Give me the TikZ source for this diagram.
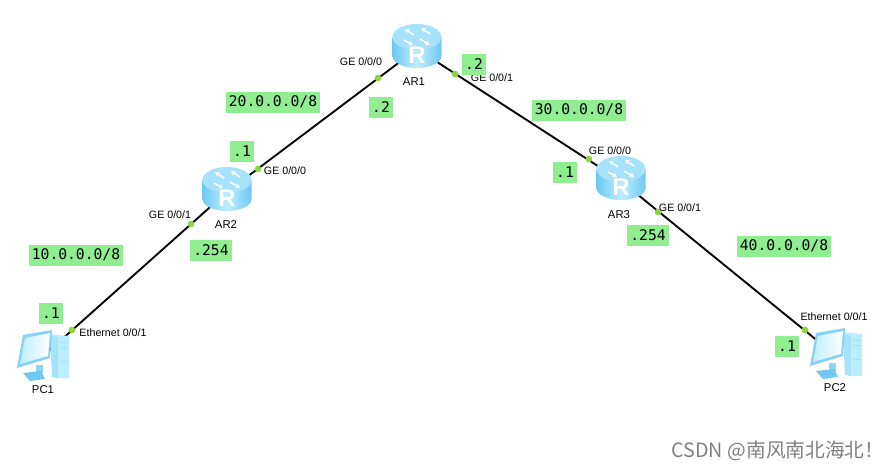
\documentclass[tikz,border=0pt]{standalone}
\usepackage{fontspec}
\setmainfont{Liberation Sans}
\newfontfamily\netmono{DejaVu Sans Mono}
\newfontfamily\cjkmark{Noto Sans CJK SC}
\usetikzlibrary{arrows.meta}
\definecolor{netgreen}{HTML}{90EE90}
\definecolor{portgreen}{HTML}{8FD43C}
\definecolor{iconblue}{HTML}{6FC8F2}
\definecolor{iconpale}{HTML}{BDEEFF}
\definecolor{icontop}{HTML}{A6E2FA}

\begin{document}
\begin{tikzpicture}[
  x=0.75pt,y=-0.75pt,
  netlabel/.style={fill=netgreen,font=\netmono\fontsize{11}{13}\selectfont,inner xsep=2.25pt,
                   inner ysep=0pt,minimum height=15.75pt},
  portlabel/.style={font=\fontsize{8}{10}\selectfont,inner sep=0pt},
  devlabel/.style={font=\fontsize{8.5}{10}\selectfont,inner sep=0pt},
  portdot/.style={circle,fill=portgreen,minimum size=5pt,inner sep=0pt},
  devnode/.style={inner sep=0pt,minimum size=1pt},
  link/.style={line width=1.4pt,black},
  turn/.style={-{Stealth[length=3.4pt,width=4pt]},white,line width=1.1pt},
  routericon/.pic={
    \path[left color=iconblue,right color=iconblue,middle color=iconpale]
      (-24.5,-12) -- (-24.5,7) arc[start angle=180,end angle=0,x radius=24.5,y radius=12]
      -- (24.5,-12) -- cycle;
    \path[fill=icontop] (0,-12) ellipse[x radius=24.5,y radius=13];
    \draw[turn] (-3,-14) -- (-12,-20);
    \draw[turn] (-13,-9) -- (-4,-4);
    \draw[turn] (3,-10) -- (13,-4);
    \draw[turn] (13,-15) -- (4,-21);
    \node[white,font=\bfseries\fontsize{18}{18}\selectfont,inner sep=0pt] at (0,6) {R};
  },
  pcicon/.pic={
    \path[fill=icontop] (8,-23) -- (16,-21) -- (16,21) -- (10,20) -- cycle;
    \path[fill=iconpale] (8,-23) -- (27,-21) -- (27,21) -- (16,21) -- (16,-19) -- cycle;
    \draw[iconblue!60,line width=0.5pt] (18,-15) -- (26,-15) (18,-10) -- (26,-10) (18,4) -- (26,4);
    \path[fill=iconblue!80] (-6,8) -- (1,8) -- (1,16) -- (-6,16) -- cycle;
    \path[fill=iconblue] (-19,16) -- (-1,14) -- (3,22) -- (-12,24) -- cycle;
    \path[fill=iconblue!85] (-25,11) -- (-19,-22) -- (10,-27) -- (8,1) -- cycle;
    \path[left color=iconpale,right color=white] (-22,7) -- (-17,-19) -- (8,-24) -- (6,-1) -- cycle;
  },
]

\path[use as bounding box] (0,0) rectangle (890,469);

% ---- Devices ----------------------------------------------------------------
\node[devnode] (AR1) at (417,49)  {};
\node[devnode] (AR2) at (227,192) {};
\node[devnode] (AR3) at (621,181) {};
\node[devnode] (PC1) at (42,357)  {};
\node[devnode] (PC2) at (835,355) {};

% ---- Links ------------------------------------------------------------------
\foreach \from/\to in {PC1/AR2, AR2/AR1, AR1/AR3, AR3/PC2}{
  \draw[link] (\from.center) -- (\to.center);
}

% ---- Icons ------------------------------------------------------------------
\foreach \dev in {AR1,AR2,AR3}{
  \pic at (\dev) {routericon};
}
\foreach \dev in {PC1,PC2}{
  \pic at (\dev) {pcicon};
}

% ---- Device names -----------------------------------------------------------
\node[devlabel] (lblAR1) at (414,82)  {AR1};
\node[devlabel] (lblAR2) at (226,225) {AR2};
\node[devlabel] (lblAR3) at (619,215) {AR3};
\node[devlabel] (lblPC1) at (43,390)  {PC1};
\node[devlabel] (lblPC2) at (835,388) {PC2};

% ---- Port dots --------------------------------------------------------------
\node[portdot] (p1a) at (378,78)  {};
\node[portdot] (p1b) at (455,74)  {};
\node[portdot] (p2a) at (258,169) {};
\node[portdot] (p2b) at (191,224) {};
\node[portdot] (p3a) at (589,159) {};
\node[portdot] (p3b) at (658,212) {};
\node[portdot] (p4a) at (72,330)  {};
\node[portdot] (p5a) at (805,330) {};

% ---- Port names -------------------------------------------------------------
\node[portlabel] (t1a) at (361,62)  {GE 0/0/0};
\node[portlabel] (t1b) at (492,78)  {GE 0/0/1};
\node[portlabel] (t2a) at (285,171) {GE 0/0/0};
\node[portlabel] (t2b) at (170,215) {GE 0/0/1};
\node[portlabel] (t3a) at (610,151) {GE 0/0/0};
\node[portlabel] (t3b) at (680,208) {GE 0/0/1};
\node[portlabel] (t4a) at (113,333) {Ethernet 0/0/1};
\node[portlabel] (t5a) at (834,317) {Ethernet 0/0/1};

% ---- Networks and host addresses --------------------------------------------
\node[netlabel] (n10) at (76,255)  {10.0.0.0/8};
\node[netlabel] (n20) at (273,102) {20.0.0.0/8};
\node[netlabel] (n30) at (579,110) {30.0.0.0/8};
\node[netlabel] (n40) at (784,246) {40.0.0.0/8};
\node[netlabel] (h1a) at (381,107) {.2};
\node[netlabel] (h1b) at (474,64)  {.2};
\node[netlabel] (h2a) at (242,151) {.1};
\node[netlabel] (h2b) at (211,250) {.254};
\node[netlabel] (h3a) at (565,172) {.1};
\node[netlabel] (h3b) at (648,235) {.254};
\node[netlabel] (h4a) at (51,313)  {.1};
\node[netlabel] (h5a) at (787,346) {.1};

% ---- Watermark --------------------------------------------------------------
\node[font=\cjkmark\fontsize{14.8}{16}\selectfont,text=black!50,inner sep=0pt] (mark) at (778,451)
     {CSDN @南风南北海北！};

\end{tikzpicture}
\end{document}
